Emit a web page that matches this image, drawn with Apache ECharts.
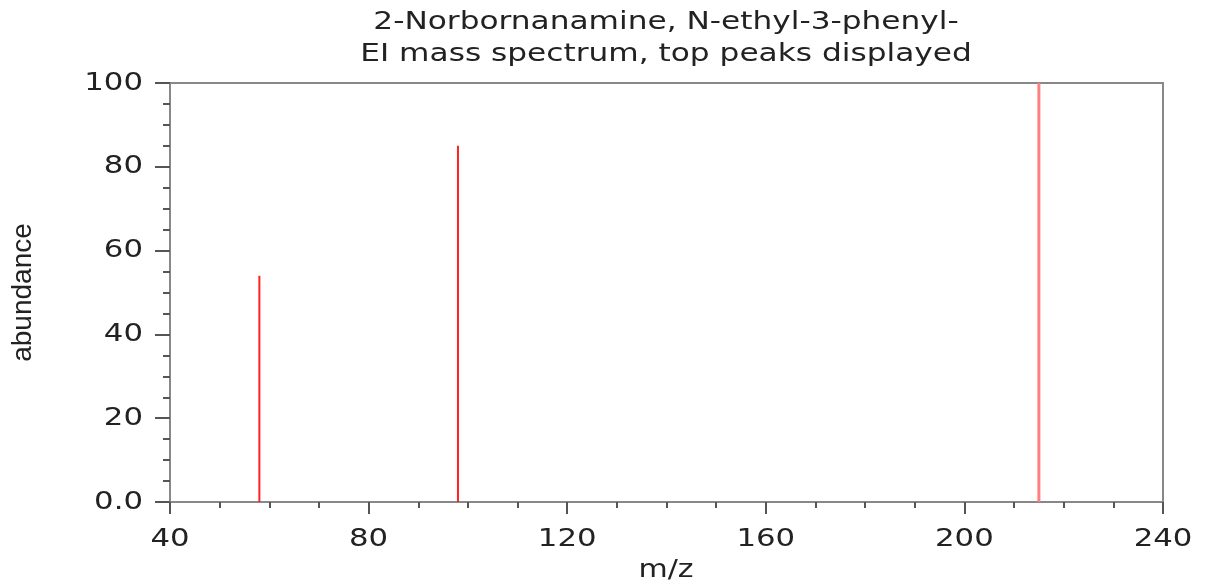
<!DOCTYPE html>
<html>
<head>
<meta charset="utf-8">
<script src="https://cdn.jsdelivr.net/npm/echarts@6/dist/echarts.min.js"></script>
<style>
  html, body { margin: 0; padding: 0; background: #fff; }
  #main { width: 1208px; height: 583px; }
</style>
</head>
<body>
<div id="main"></div>
<script>
// peaks
var mz = [58, 98, 215];
var abundance = [54, 85, 100];
var xTicks = [40, 80, 120, 160, 200, 240];
var yTicks = [0, 20, 40, 60, 80, 100];
var titleLines = ['2-Norbornanamine, N-ethyl-3-phenyl-', 'EI mass spectrum, top peaks displayed'];

var myChart = echarts.init(document.getElementById('main'));

var option = {
    backgroundColor: '#fff',
    animation: false,
    grid: {
        left: 170,
        right: 45,
        top: 83,
        bottom: 81,
        show: true,
        borderColor: '#888',
        borderWidth: 2
    },
    xAxis: {
        type: 'value',
        min: xTicks[0],
        max: xTicks[xTicks.length - 1],
        interval: 40,
        axisLine: { lineStyle: { color: '#888', width: 2 } },
        axisTick: { length: 12, lineStyle: { color: '#555', width: 2 } },
        minorTick: { show: true, splitNumber: 4, length: 6, lineStyle: { color: '#555', width: 2 } },
        splitLine: { show: false },
        axisLabel: { show: false }
    },
    yAxis: {
        type: 'value',
        min: yTicks[0],
        max: yTicks[yTicks.length - 1],
        interval: 20,
        name: 'abundance',
        nameLocation: 'middle',
        nameGap: 133,
        nameTextStyle: { fontFamily: 'Liberation Sans', fontSize: 28, color: '#222' },
        axisLine: { lineStyle: { color: '#888', width: 2 } },
        axisTick: { length: 15, lineStyle: { color: '#555', width: 2 } },
        minorTick: { show: true, splitNumber: 4, length: 7, lineStyle: { color: '#555', width: 2 } },
        splitLine: { show: false },
        axisLabel: { show: false }
    },
    series: [{
        type: 'custom',
        data: mz.map(function (m, i) { return [m, abundance[i]]; }),
        renderItem: function (params, api) {
            var top = api.coord([api.value(0), api.value(1)]);
            var base = api.coord([api.value(0), 0]);
            var isBase = api.value(1) >= 100;
            return {
                type: 'line',
                shape: { x1: top[0], y1: top[1], x2: base[0], y2: base[1] },
                style: {
                    stroke: isBase ? '#ff8080' : '#ff2020',
                    lineWidth: isBase ? 3 : 2
                }
            };
        }
    }]
};

myChart.setOption(option);

// the original uses a wide font, so the texts are stretched sideways
function wideText(x, y, text, align, size, sx) {
    return {
        type: 'text',
        x: x,
        y: y,
        scaleX: sx,
        silent: true,
        style: {
            text: text,
            x: 0,
            y: 0,
            textAlign: align,
            align: align,
            textVerticalAlign: 'middle',
            verticalAlign: 'middle',
            font: size + 'px "DejaVu Sans"',
            fill: '#222'
        }
    };
}

var graphics = [];
xTicks.forEach(function (v) {
    var px = myChart.convertToPixel({ xAxisIndex: 0 }, v);
    graphics.push(wideText(px, 539, String(v), 'center', 25, 1.23));
});
yTicks.forEach(function (v) {
    var py = myChart.convertToPixel({ yAxisIndex: 0 }, v);
    graphics.push(wideText(143, py, v === 0 ? '0.0' : String(v), 'right', 25, 1.23));
});
graphics.push(wideText(666, 23, titleLines[0], 'center', 24, 1.3));
graphics.push(wideText(666, 55, titleLines[1], 'center', 24, 1.3));
graphics.push(wideText(666, 571, 'm/z', 'center', 24, 1.25));

myChart.setOption({ graphic: graphics });
</script>
</body>
</html>
